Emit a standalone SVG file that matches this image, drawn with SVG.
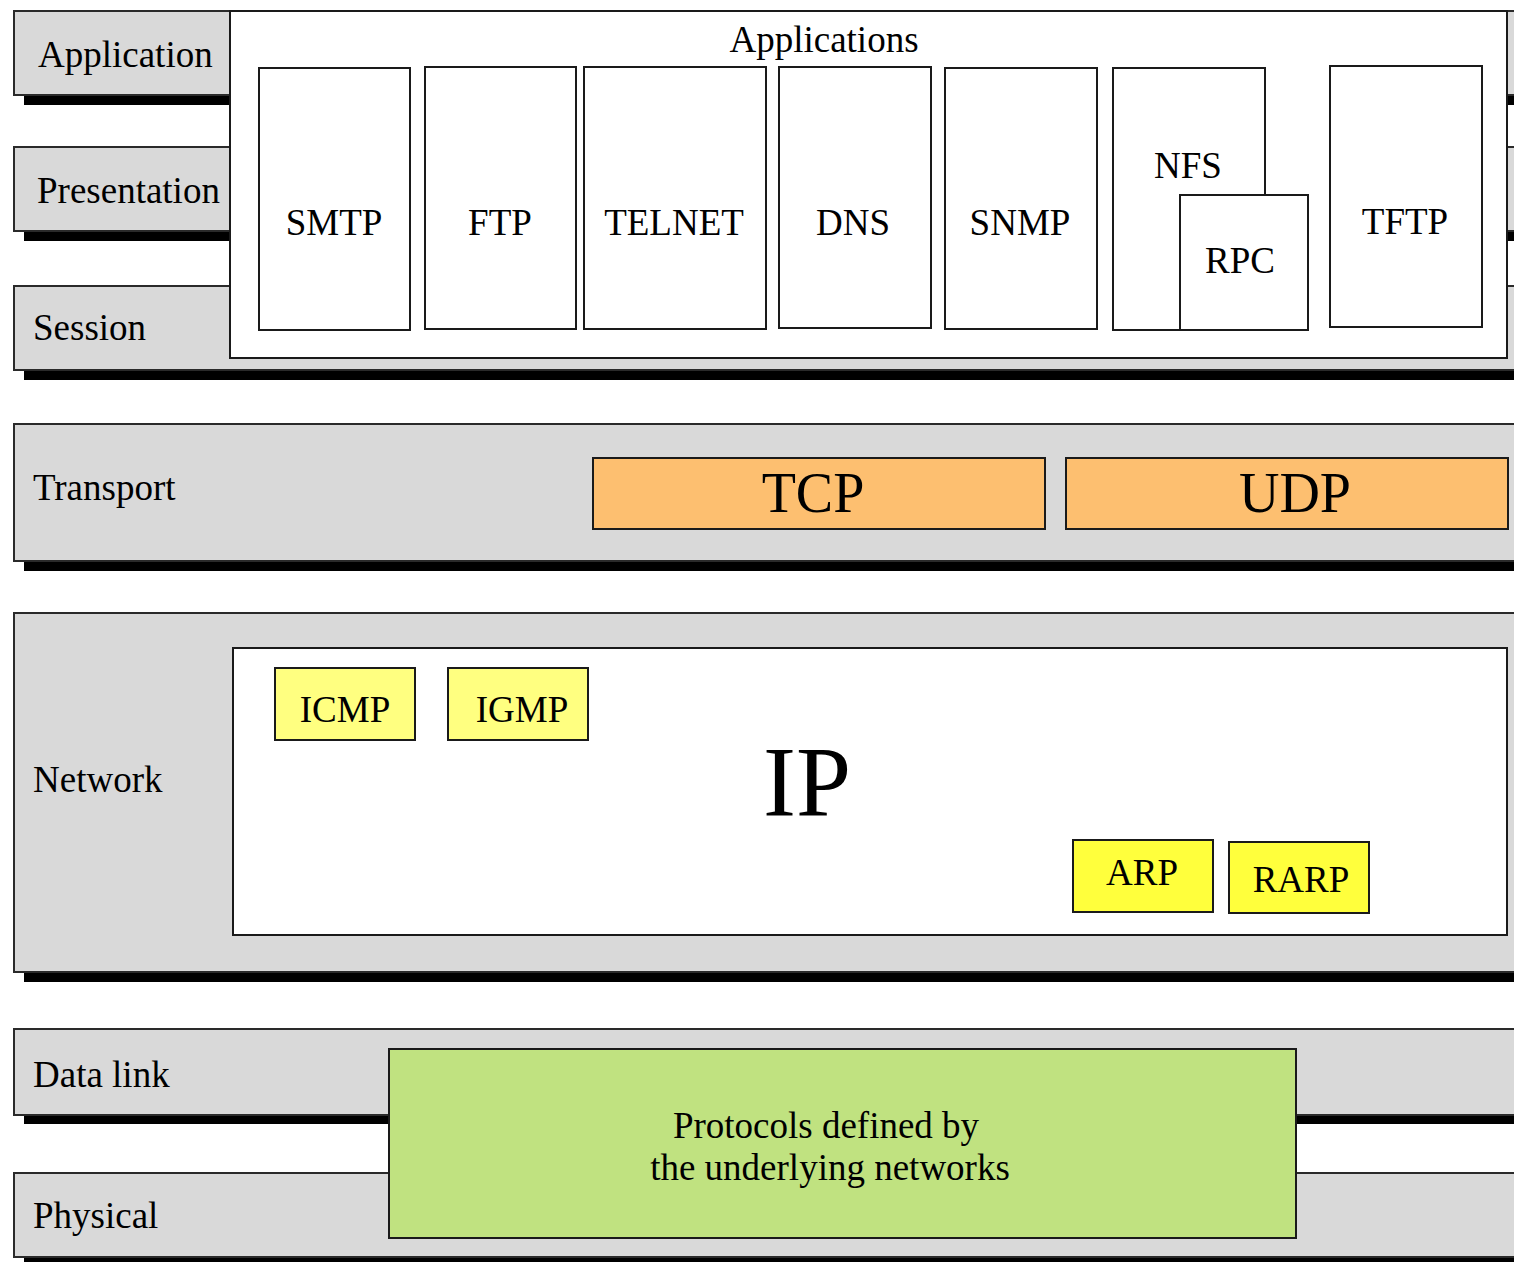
<svg xmlns="http://www.w3.org/2000/svg" width="1514" height="1262" viewBox="0 0 1514 1262">
<style>
.layer{fill:#d9d9d9;stroke:#2a2a2a;stroke-width:2}
.shadow{fill:#000}
.white{fill:#fff;stroke:#1a1a1a;stroke-width:2}
.app{fill:#fff;stroke:#1a1a1a;stroke-width:2}
.tp{fill:#fdbf70;stroke:#1a1a1a;stroke-width:2}
.y1{fill:#ffff80;stroke:#1a1a1a;stroke-width:2}
.y2{fill:#ffff3c;stroke:#1a1a1a;stroke-width:2}
.green{fill:#c0e280;stroke:#1a1a1a;stroke-width:2}
text{font-family:"Liberation Serif","Times New Roman",serif;fill:#000;font-size:37px}
.c{text-anchor:middle}
</style>
<rect width="1514" height="1262" fill="#fff"/>
<!-- top three layers -->
<g id="layer-application">
<rect class="shadow" x="24" y="21" width="1510" height="84"/>
<rect class="layer" x="14" y="11" width="1520" height="84"/>
<text x="38" y="67">Application</text>
</g>
<g id="layer-presentation">
<rect class="shadow" x="24" y="157" width="1510" height="84"/>
<rect class="layer" x="14" y="147" width="1520" height="84"/>
<text x="37" y="203">Presentation</text>
</g>
<g id="layer-session">
<rect class="shadow" x="24" y="296" width="1510" height="84"/>
<rect class="layer" x="14" y="286" width="1520" height="84"/>
<text x="33" y="340">Session</text>
</g>
<g id="applications">
<rect class="white" x="230" y="11" width="1277" height="347"/>
<text class="c" x="824" y="52">Applications</text>
</g>
<g id="smtp"><rect class="app" x="259" y="68" width="151" height="262"/><text class="c" x="334" y="235">SMTP</text></g>
<g id="ftp"><rect class="app" x="425" y="67" width="151" height="262"/><text class="c" x="500" y="235">FTP</text></g>
<g id="telnet"><rect class="app" x="584" y="67" width="182" height="262"/><text class="c" x="674" y="235">TELNET</text></g>
<g id="dns"><rect class="app" x="779" y="67" width="152" height="261"/><text class="c" x="853" y="235">DNS</text></g>
<g id="snmp"><rect class="app" x="945" y="68" width="152" height="261"/><text class="c" x="1020" y="235">SNMP</text></g>
<g id="nfs"><rect class="app" x="1113" y="68" width="152" height="262"/><text class="c" x="1188" y="178">NFS</text></g>
<g id="rpc"><rect class="app" x="1180" y="195" width="128" height="135"/><text class="c" x="1240" y="273">RPC</text></g>
<g id="tftp"><rect class="app" x="1330" y="66" width="152" height="261"/><text class="c" x="1405" y="234">TFTP</text></g>
<!-- transport -->
<g id="layer-transport">
<rect class="shadow" x="24" y="434" width="1510" height="137"/>
<rect class="layer" x="14" y="424" width="1520" height="137"/>
<text x="33" y="500">Transport</text>
</g>
<g id="tcp"><rect class="tp" x="593" y="458" width="452" height="71"/><text class="c" x="813" y="512" style="font-size:56px">TCP</text></g>
<g id="udp"><rect class="tp" x="1066" y="458" width="442" height="71"/><text class="c" x="1295" y="512" style="font-size:56px">UDP</text></g>
<!-- network -->
<g id="layer-network">
<rect class="shadow" x="24" y="623" width="1510" height="359"/>
<rect class="layer" x="14" y="613" width="1520" height="359"/>
<text x="33" y="792">Network</text>
</g>
<g id="ip">
<rect class="white" x="233" y="648" width="1274" height="287"/>
<text class="c" x="807" y="815" style="font-size:99px">IP</text>
</g>
<g id="icmp"><rect class="y1" x="275" y="668" width="140" height="72"/><text class="c" x="345" y="722">ICMP</text></g>
<g id="igmp"><rect class="y1" x="448" y="668" width="140" height="72"/><text class="c" x="522" y="722">IGMP</text></g>
<g id="arp"><rect class="y2" x="1073" y="840" width="140" height="72"/><text class="c" x="1142" y="885">ARP</text></g>
<g id="rarp"><rect class="y2" x="1229" y="842" width="140" height="71"/><text class="c" x="1301" y="892">RARP</text></g>
<!-- data link / physical -->
<g id="layer-datalink">
<rect class="shadow" x="24" y="1039" width="1510" height="85"/>
<rect class="layer" x="14" y="1029" width="1520" height="86"/>
<text x="33" y="1087">Data link</text>
</g>
<g id="layer-physical">
<rect class="shadow" x="24" y="1183" width="1510" height="85"/>
<rect class="layer" x="14" y="1173" width="1520" height="84"/>
<text x="33" y="1228">Physical</text>
</g>
<g id="underlying">
<rect class="green" x="389" y="1049" width="907" height="189"/>
<text class="c" x="826" y="1138">Protocols defined by</text>
<text class="c" x="830" y="1180">the underlying networks</text>
</g>
<g id="connectors"/>
</svg>
